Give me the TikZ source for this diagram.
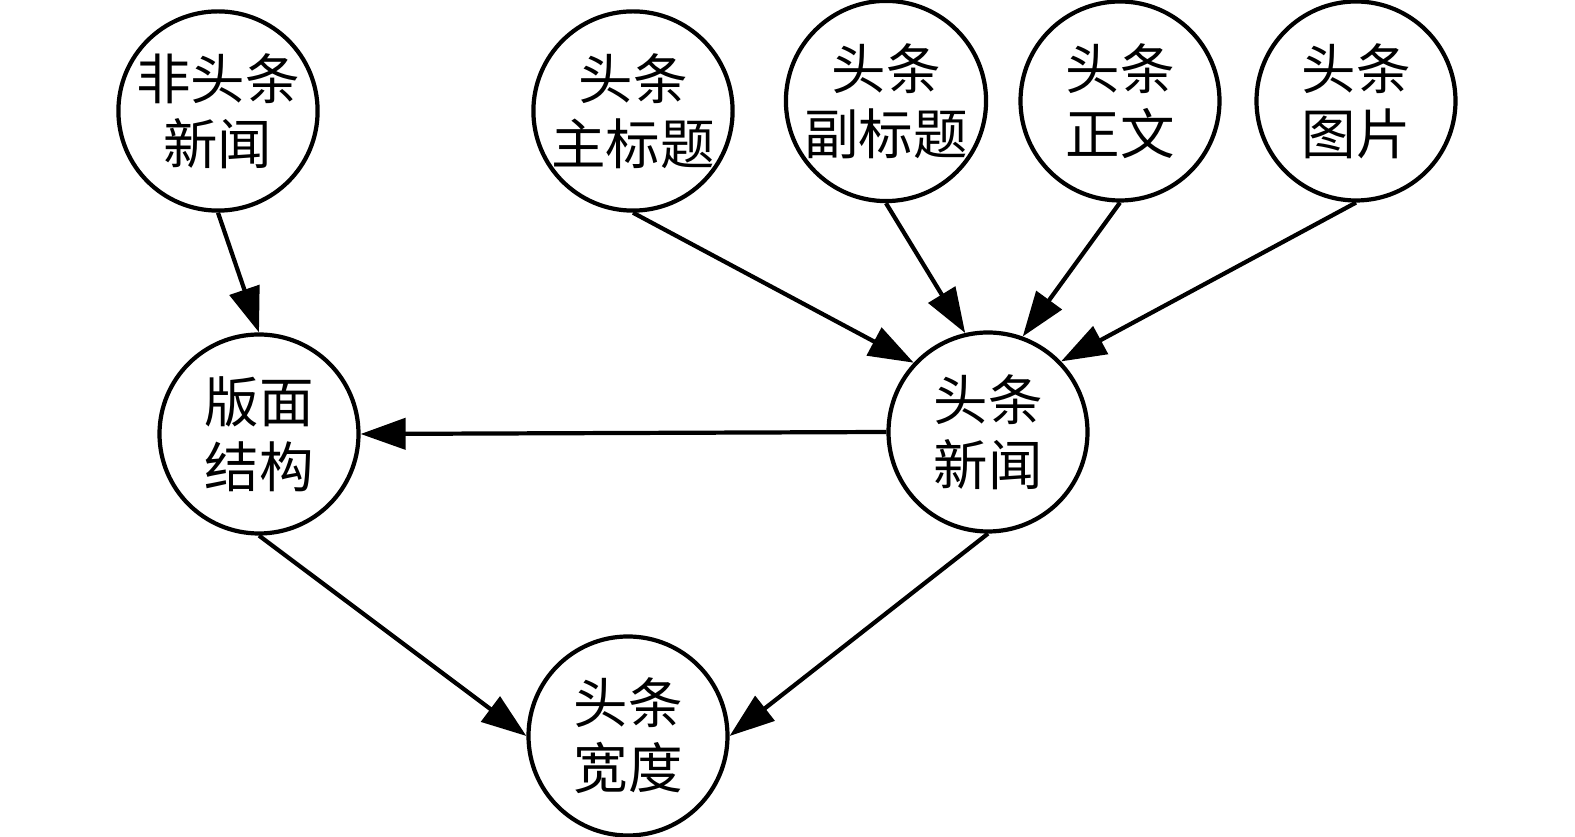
\documentclass[tikz,border=0pt]{standalone}
\usepackage{fontspec}
\newfontfamily\cjk{Noto Sans CJK SC}
\usepackage{tikz}
\usetikzlibrary{positioning, arrows.meta}
\tikzset{
    newsnode/.style={draw, circle, line width=1.2pt, minimum size=1.99cm, inner sep=0pt, align=center, font=\cjk\fontsize{15.5}{18.5}\selectfont},
    newsarrow/.style={-{Triangle[length=4.5mm, width=3.1mm]}, line width=1.2pt},
}

\begin{document}
\begin{tikzpicture}
        \useasboundingbox (0,0) rectangle (15.75,8.37);
        % Fila superior
        \node[newsnode] (fei) at (2.18,7.26)  {非头条\\新闻};
        \node[newsnode] (zhu) at (6.33,7.26)  {头条\\主标题};
        \node[newsnode] (fu)  at (8.86,7.36)  {头条\\副标题};
        \node[newsnode] (zw)  at (11.20,7.36) {头条\\正文};
        \node[newsnode] (tp)  at (13.56,7.36) {头条\\图片};
        % Fila media
        \node[newsnode] (bm)  at (2.59,4.03)  {版面\\结构};
        \node[newsnode] (xw)  at (9.88,4.05)  {头条\\新闻};
        % Fila inferior
        \node[newsnode] (kd)  at (6.28,1.01)  {头条\\宽度};
        % Partes -> noticia
        \draw[newsarrow] (zhu.south) -- (xw.137);
        \draw[newsarrow] (fu.south)  -- (xw.103);
        \draw[newsarrow] (zw.south)  -- (xw.70);
        \draw[newsarrow] (tp.south)  -- (xw.44);
        % Estructura
        \draw[newsarrow] (fei.south) -- (bm.north);
        \draw[newsarrow] (xw.west)   -- (bm.east);
        % Anchura
        \draw[newsarrow] (bm.south)  -- (kd.west);
        \draw[newsarrow] (xw.south)  -- (kd.east);
    \end{tikzpicture}
\end{document}
